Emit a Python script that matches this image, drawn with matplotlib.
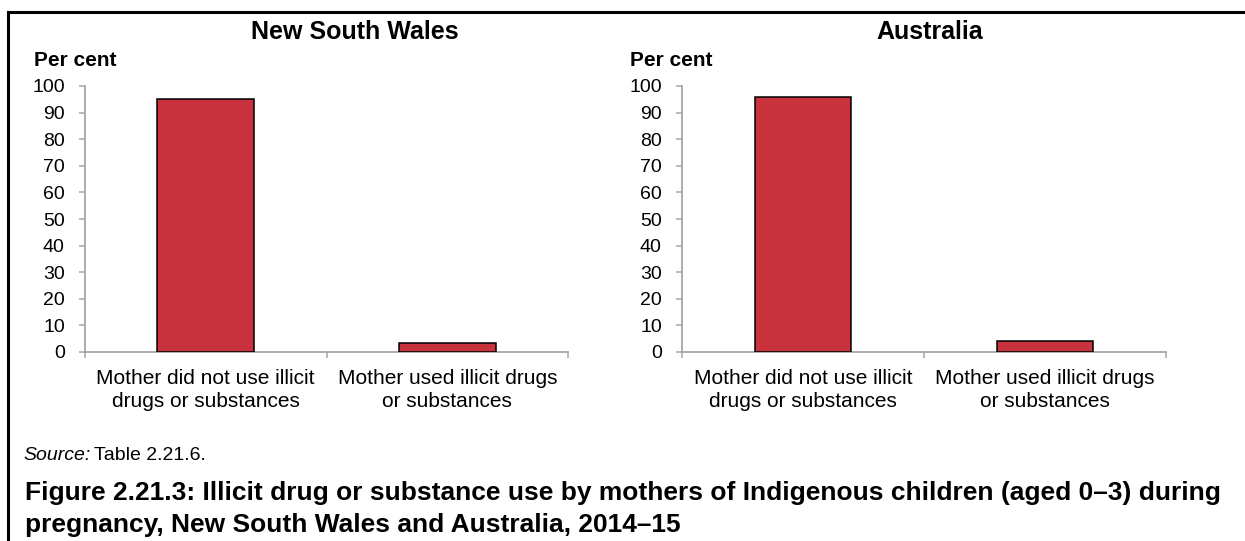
import matplotlib
matplotlib.use("Agg")
import matplotlib.pyplot as plt
from matplotlib.lines import Line2D

plt.rcParams['font.family'] = ['Liberation Sans', 'DejaVu Sans']

# data
categories = ["Mother did not use illicit\ndrugs or substances",
              "Mother used illicit drugs\nor substances"]
nsw_values = [95.1, 3.3]
aus_values = [95.8, 4.1]
panel_titles = ["New South Wales", "Australia"]
yticks = list(range(0, 101, 10))

W, H = 1245, 541
BAR_RED = "#C8323C"
AXIS_GREY = "#A6A6A6"

fig = plt.figure(figsize=(W / 100, H / 100), dpi=100)


def px_axes(left, right, top, bottom):
  # convert pixel box to figure fractions
  return fig.add_axes([left / W, (H - bottom) / H, (right - left) / W, (bottom - top) / H])


def draw_panel(ax, values):
  xs = list(range(len(values)))
  ax.bar(xs, values, width=0.4, color=BAR_RED, edgecolor="black", linewidth=1.1, zorder=3)
  ax.set_xlim(-0.5, len(values) - 0.5)
  ax.set_ylim(0, 100)
  ax.set_yticks(yticks)
  ax.set_yticklabels([str(t) for t in yticks], fontsize=14)
  ax.set_xticks(xs)
  ax.set_xticklabels(categories, fontsize=15, linespacing=1.3)
  ax.set_xticks([x - 0.5 for x in range(len(values) + 1)], minor=True)
  ax.tick_params(axis="x", which="major", length=0, pad=12)
  ax.tick_params(axis="x", which="minor", length=4.5, width=1.1, color=AXIS_GREY)
  ax.tick_params(axis="y", length=4.5, width=1.1, color=AXIS_GREY, pad=10)
  for s in ["top", "right"]:
    ax.spines[s].set_visible(False)
  for s in ["left", "bottom"]:
    ax.spines[s].set_color(AXIS_GREY)
    ax.spines[s].set_linewidth(1.3)
  ax.set_facecolor("none")


ax1 = px_axes(85, 568, 86, 352)
draw_panel(ax1, nsw_values)
ax2 = px_axes(682, 1166, 86, 352)
draw_panel(ax2, aus_values)

# panel titles and unit labels
fig.text(355 / W, 1 - 32 / H, panel_titles[0], ha="center", va="center", fontsize=18, fontweight="bold")
fig.text(930 / W, 1 - 32 / H, panel_titles[1], ha="center", va="center", fontsize=18, fontweight="bold")
fig.text(34 / W, 1 - 61 / H, "Per cent", ha="left", va="center", fontsize=15, fontweight="bold")
fig.text(630 / W, 1 - 61 / H, "Per cent", ha="left", va="center", fontsize=15, fontweight="bold")

# source note: italic word followed by plain text
src = fig.text(23 / W, 1 - 455 / H, "Source:", ha="left", va="center", fontsize=14, style="italic")
renderer = fig.canvas.get_renderer()
bb = src.get_window_extent(renderer=renderer)
fig.text((bb.x1 + 4) / W, 1 - 455 / H, "Table 2.21.6.", ha="left", va="center", fontsize=14)

# figure caption
fig.text(25 / W, 1 - 509 / H,
         "Figure 2.21.3: Illicit drug or substance use by mothers of Indigenous children (aged 0\u20133) during\n"
         "pregnancy, New South Wales and Australia, 2014\u201315",
         ha="left", va="center", fontsize=19, fontweight="bold", linespacing=1.45)

# frame lines (left and top)
fig.add_artist(Line2D([8 / W, 8 / W], [0, 1 - 12 / H], transform=fig.transFigure, color="black", linewidth=2.2))
fig.add_artist(Line2D([8 / W, 1], [1 - 12 / H, 1 - 12 / H], transform=fig.transFigure, color="black", linewidth=2.2))

fig.savefig("out.png", dpi=100)
